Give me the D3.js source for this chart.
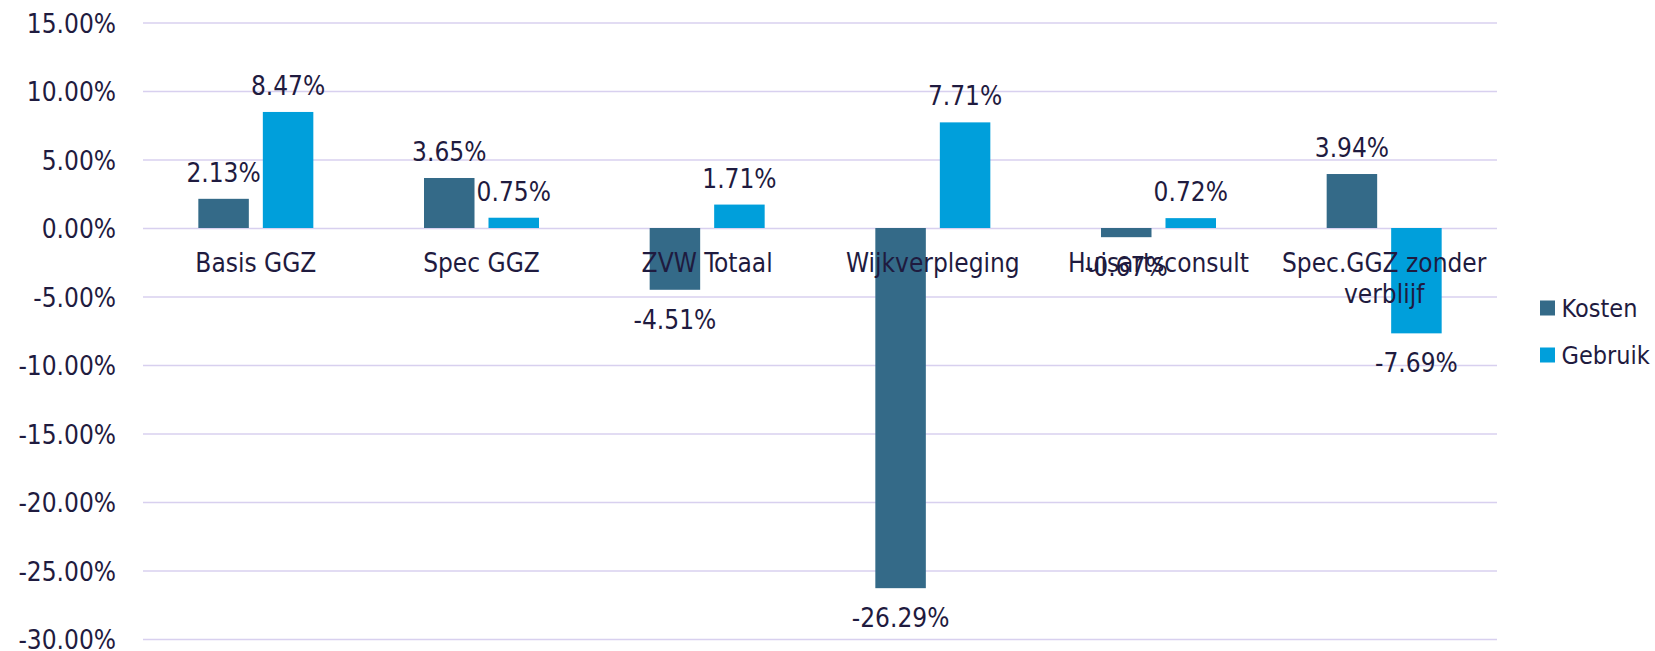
<!DOCTYPE html>
<html>
<head>
<meta charset="utf-8">
<script src="https://cdn.jsdelivr.net/npm/d3@7"></script>
<style>
  html, body { margin: 0; padding: 0; background: #ffffff; }
  svg text { font-family: "DejaVu Sans Condensed", "DejaVu Sans", sans-serif; font-stretch: condensed; fill: #1f1b3f; }
</style>
</head>
<body>
<svg id="chart" width="1655" height="651"></svg>
<script>
// Categories and the two series (percent change)
const categories = ["Basis GGZ", "Spec GGZ", "ZVW Totaal", "Wijkverpleging", "Huisartsconsult", "Spec.GGZ zonder verblijf"];
const seriesNames = ["Kosten", "Gebruik"];
const kosten = [2.13, 3.65, -4.51, -26.29, -0.67, 3.94];
const gebruik = [8.47, 0.75, 1.71, 7.71, 0.72, -7.69];
const yTicks = [15, 10, 5, 0, -5, -10, -15, -20, -25, -30];
const colors = { Kosten: "#346a88", Gebruik: "#009fdb" };

const svg = d3.select("#chart");
const fontSize = 26;

// Percent with two decimals and a plain hyphen as minus sign
const pct = d => d3.format(".2f")(d).replace("\u2212", "-") + "%";

const x0 = d3.scaleBand().domain(categories).range([143, 1497]).paddingInner(0).paddingOuter(0);
const bw = x0.bandwidth();
const x1 = d3.scaleBand().domain(seriesNames)
  .range([bw / 2 - 57.5, bw / 2 + 57.5]).paddingInner(0.217).paddingOuter(0);
const y = d3.scaleLinear().domain([-30, 15]).range([639, 22.5]);

// Horizontal gridlines + tick labels
const yAxis = d3.axisLeft(y).tickValues(yTicks).tickSize(-(1497 - 143)).tickPadding(27)
  .tickFormat(pct);
const gAxis = svg.append("g").attr("transform", "translate(143,0)").call(yAxis);
gAxis.select(".domain").remove();
gAxis.selectAll(".tick line").attr("stroke", "#d8d0ef").attr("stroke-width", 1.6);
gAxis.selectAll(".tick text")
  .attr("font-size", fontSize).attr("dy", null)
  .attr("y", 9.5);
gAxis.attr("font-family", null).attr("font-size", null);

// Bars
const rows = categories.map((c, i) => ({ cat: c, values: [
  { key: "Kosten", v: kosten[i] }, { key: "Gebruik", v: gebruik[i] }] }));

const groups = svg.append("g").selectAll("g").data(rows).join("g")
  .attr("transform", d => `translate(${x0(d.cat)},0)`);

groups.selectAll("rect").data(d => d.values).join("rect")
  .attr("x", d => x1(d.key))
  .attr("width", x1.bandwidth())
  .attr("y", d => y(Math.max(0, d.v)))
  .attr("height", d => Math.abs(y(d.v) - y(0)))
  .attr("fill", d => colors[d.key]);

// Category labels (wrapped to the band width)
function wrapLines(text, maxW) {
  const words = text.split(" ");
  const probe = svg.append("text").attr("font-size", fontSize);
  const lines = [];
  let cur = "";
  for (const w of words) {
    const t = cur ? cur + " " + w : w;
    probe.text(t);
    if (probe.node().getComputedTextLength() > maxW && cur) { lines.push(cur); cur = w; }
    else cur = t;
  }
  if (cur) lines.push(cur);
  probe.remove();
  return lines;
}
const catG = svg.append("g");
categories.forEach(c => {
  const lines = wrapLines(c, bw);
  const t = catG.append("text").attr("font-size", fontSize).attr("text-anchor", "middle")
    .attr("x", x0(c) + bw / 2).attr("y", 272);
  lines.forEach((ln, j) => t.append("tspan").attr("x", x0(c) + bw / 2).attr("dy", j === 0 ? 0 : 31).text(ln));
});

// Value labels
groups.selectAll("text.val").data(d => d.values).join("text")
  .attr("class", "val")
  .attr("font-size", fontSize).attr("text-anchor", "middle")
  .attr("x", d => x1(d.key) + x1.bandwidth() / 2)
  .attr("y", d => d.v >= 0 ? y(d.v) - 17 : y(d.v) + 39)
  .text(d => pct(d.v));

// Legend
const legend = svg.append("g").selectAll("g").data(seriesNames).join("g")
  .attr("transform", (d, i) => `translate(1540,${300.5 + i * 47})`);
legend.append("rect").attr("width", 15).attr("height", 15).attr("fill", d => colors[d]);
legend.append("text").attr("x", 21.5).attr("y", 16.3).attr("font-size", 25).text(d => d);
</script>
</body>
</html>
